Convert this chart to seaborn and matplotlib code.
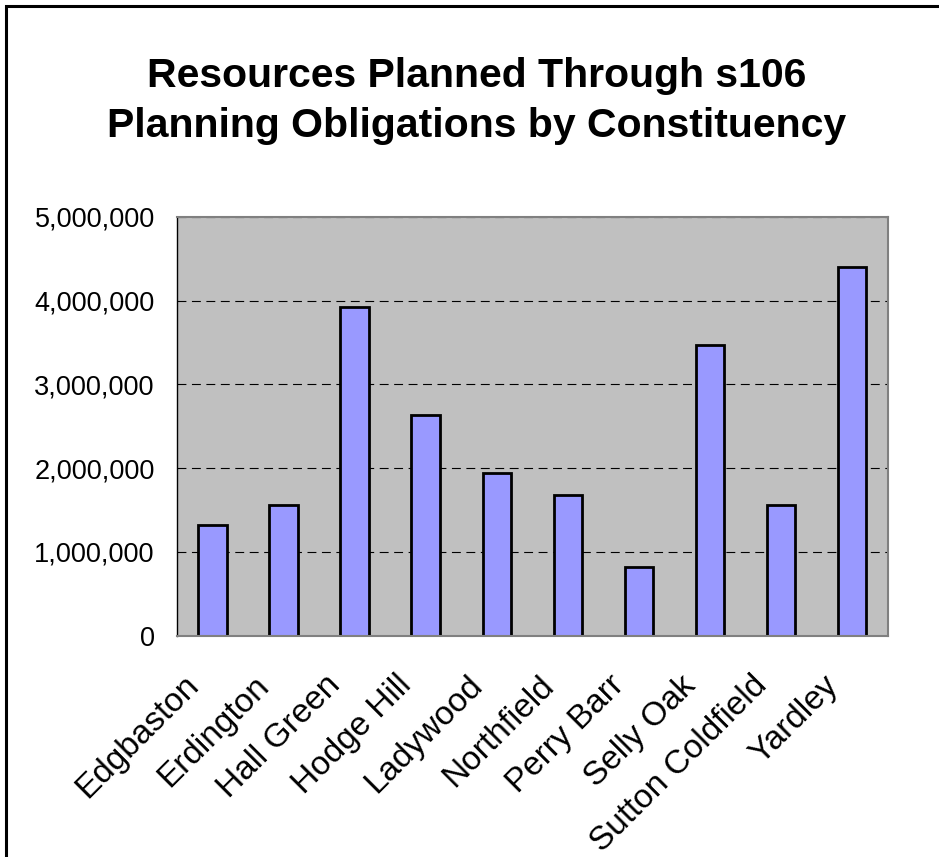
import matplotlib
matplotlib.use("Agg")
import matplotlib.pyplot as plt
import seaborn as sns
import pandas as pd
from matplotlib.ticker import FuncFormatter, FixedLocator
from matplotlib.patches import Rectangle
from matplotlib.transforms import ScaledTranslation, blended_transform_factory

constituencies = ["Edgbaston", "Erdington", "Hall Green", "Hodge Hill", "Ladywood",
                  "Northfield", "Perry Barr", "Selly Oak", "Sutton Coldfield", "Yardley"]
resources = [1320000, 1560000, 3920000, 2630000, 1945000,
             1680000, 816000, 3470000, 1560000, 4400000]
y_ticks = [0, 1000000, 2000000, 3000000, 4000000, 5000000]
title_text = "Resources Planned Through s106\nPlanning Obligations by Constituency"

sns.set_theme(style="white")
plt.rcParams["font.family"] = ["Liberation Sans", "DejaVu Sans"]
plt.rcParams["text.color"] = "black"
plt.rcParams["xtick.color"] = "black"
plt.rcParams["ytick.color"] = "black"

df = pd.DataFrame({"Constituency": constituencies, "Resources": resources})

fig = plt.figure(figsize=(9.39, 8.57), dpi=100)
ax = fig.add_axes([177 / 939, 1 - 635.7 / 857, (887.5 - 177) / 939, (635.7 - 216.7) / 857])

sns.barplot(data=df, x="Constituency", y="Resources", color="#9999FF",
            edgecolor="black", linewidth=2.0, width=0.4, saturation=1, ax=ax)

ax.set_facecolor("#C0C0C0")
ax.set_xlim(-0.5, len(constituencies) - 0.5)
ax.set_ylim(0, 5000000)
ax.yaxis.set_major_locator(FixedLocator(y_ticks))
ax.yaxis.set_major_formatter(FuncFormatter(lambda v, p: f"{int(v):,}"))
ax.set_axisbelow(True)
ax.yaxis.grid(True, color="black", linewidth=0.8, linestyle=(0, (8, 5)))
ax.xaxis.grid(False)

ax.set_xlabel("")
ax.set_ylabel("")

# category labels (placed at the category positions, offset like Excel)
ax.set_xticks(range(len(constituencies)))
ax.set_xticklabels([""] * len(constituencies))
label_tf = blended_transform_factory(ax.transData, ax.transAxes) + \
    ScaledTranslation(-19 / 100, -45 / 100, fig.dpi_scale_trans)
for i, name in enumerate(constituencies):
    ax.text(i, 0, name, transform=label_tf, rotation=45, ha="right", va="center",
            rotation_mode="anchor", fontsize=24, color="black")

ax.set_xticks([i - 0.5 for i in range(len(constituencies) + 1)], minor=True)
ax.tick_params(axis="x", which="major", length=0)
ax.tick_params(axis="x", which="minor", length=7, width=1, color="#404040", direction="out")
ax.tick_params(axis="y", which="major", length=6, width=1, color="black", direction="out",
               labelsize=19.5, pad=10, labelcolor="black")

for s in ["top", "right"]:
    ax.spines[s].set_color("#808080")
    ax.spines[s].set_linewidth(1.5)
ax.spines["left"].set_color("black")
ax.spines["left"].set_linewidth(1.0)
ax.spines["bottom"].set_color("#808080")
ax.spines["bottom"].set_linewidth(1.5)

fig.text(477 / 939, 1 - 101 / 857, title_text, ha="center", va="center",
         fontsize=29.5, fontweight="bold", linespacing=1.4, color="black")

# outer chart border (extends beyond right/bottom edges)
fig.patches.append(Rectangle((6 / 939, -0.05), 1.2, 1 - 6 / 857 + 0.05,
                             transform=fig.transFigure, fill=False,
                             edgecolor="black", linewidth=2.2))

fig.savefig("out.png", dpi=100)
